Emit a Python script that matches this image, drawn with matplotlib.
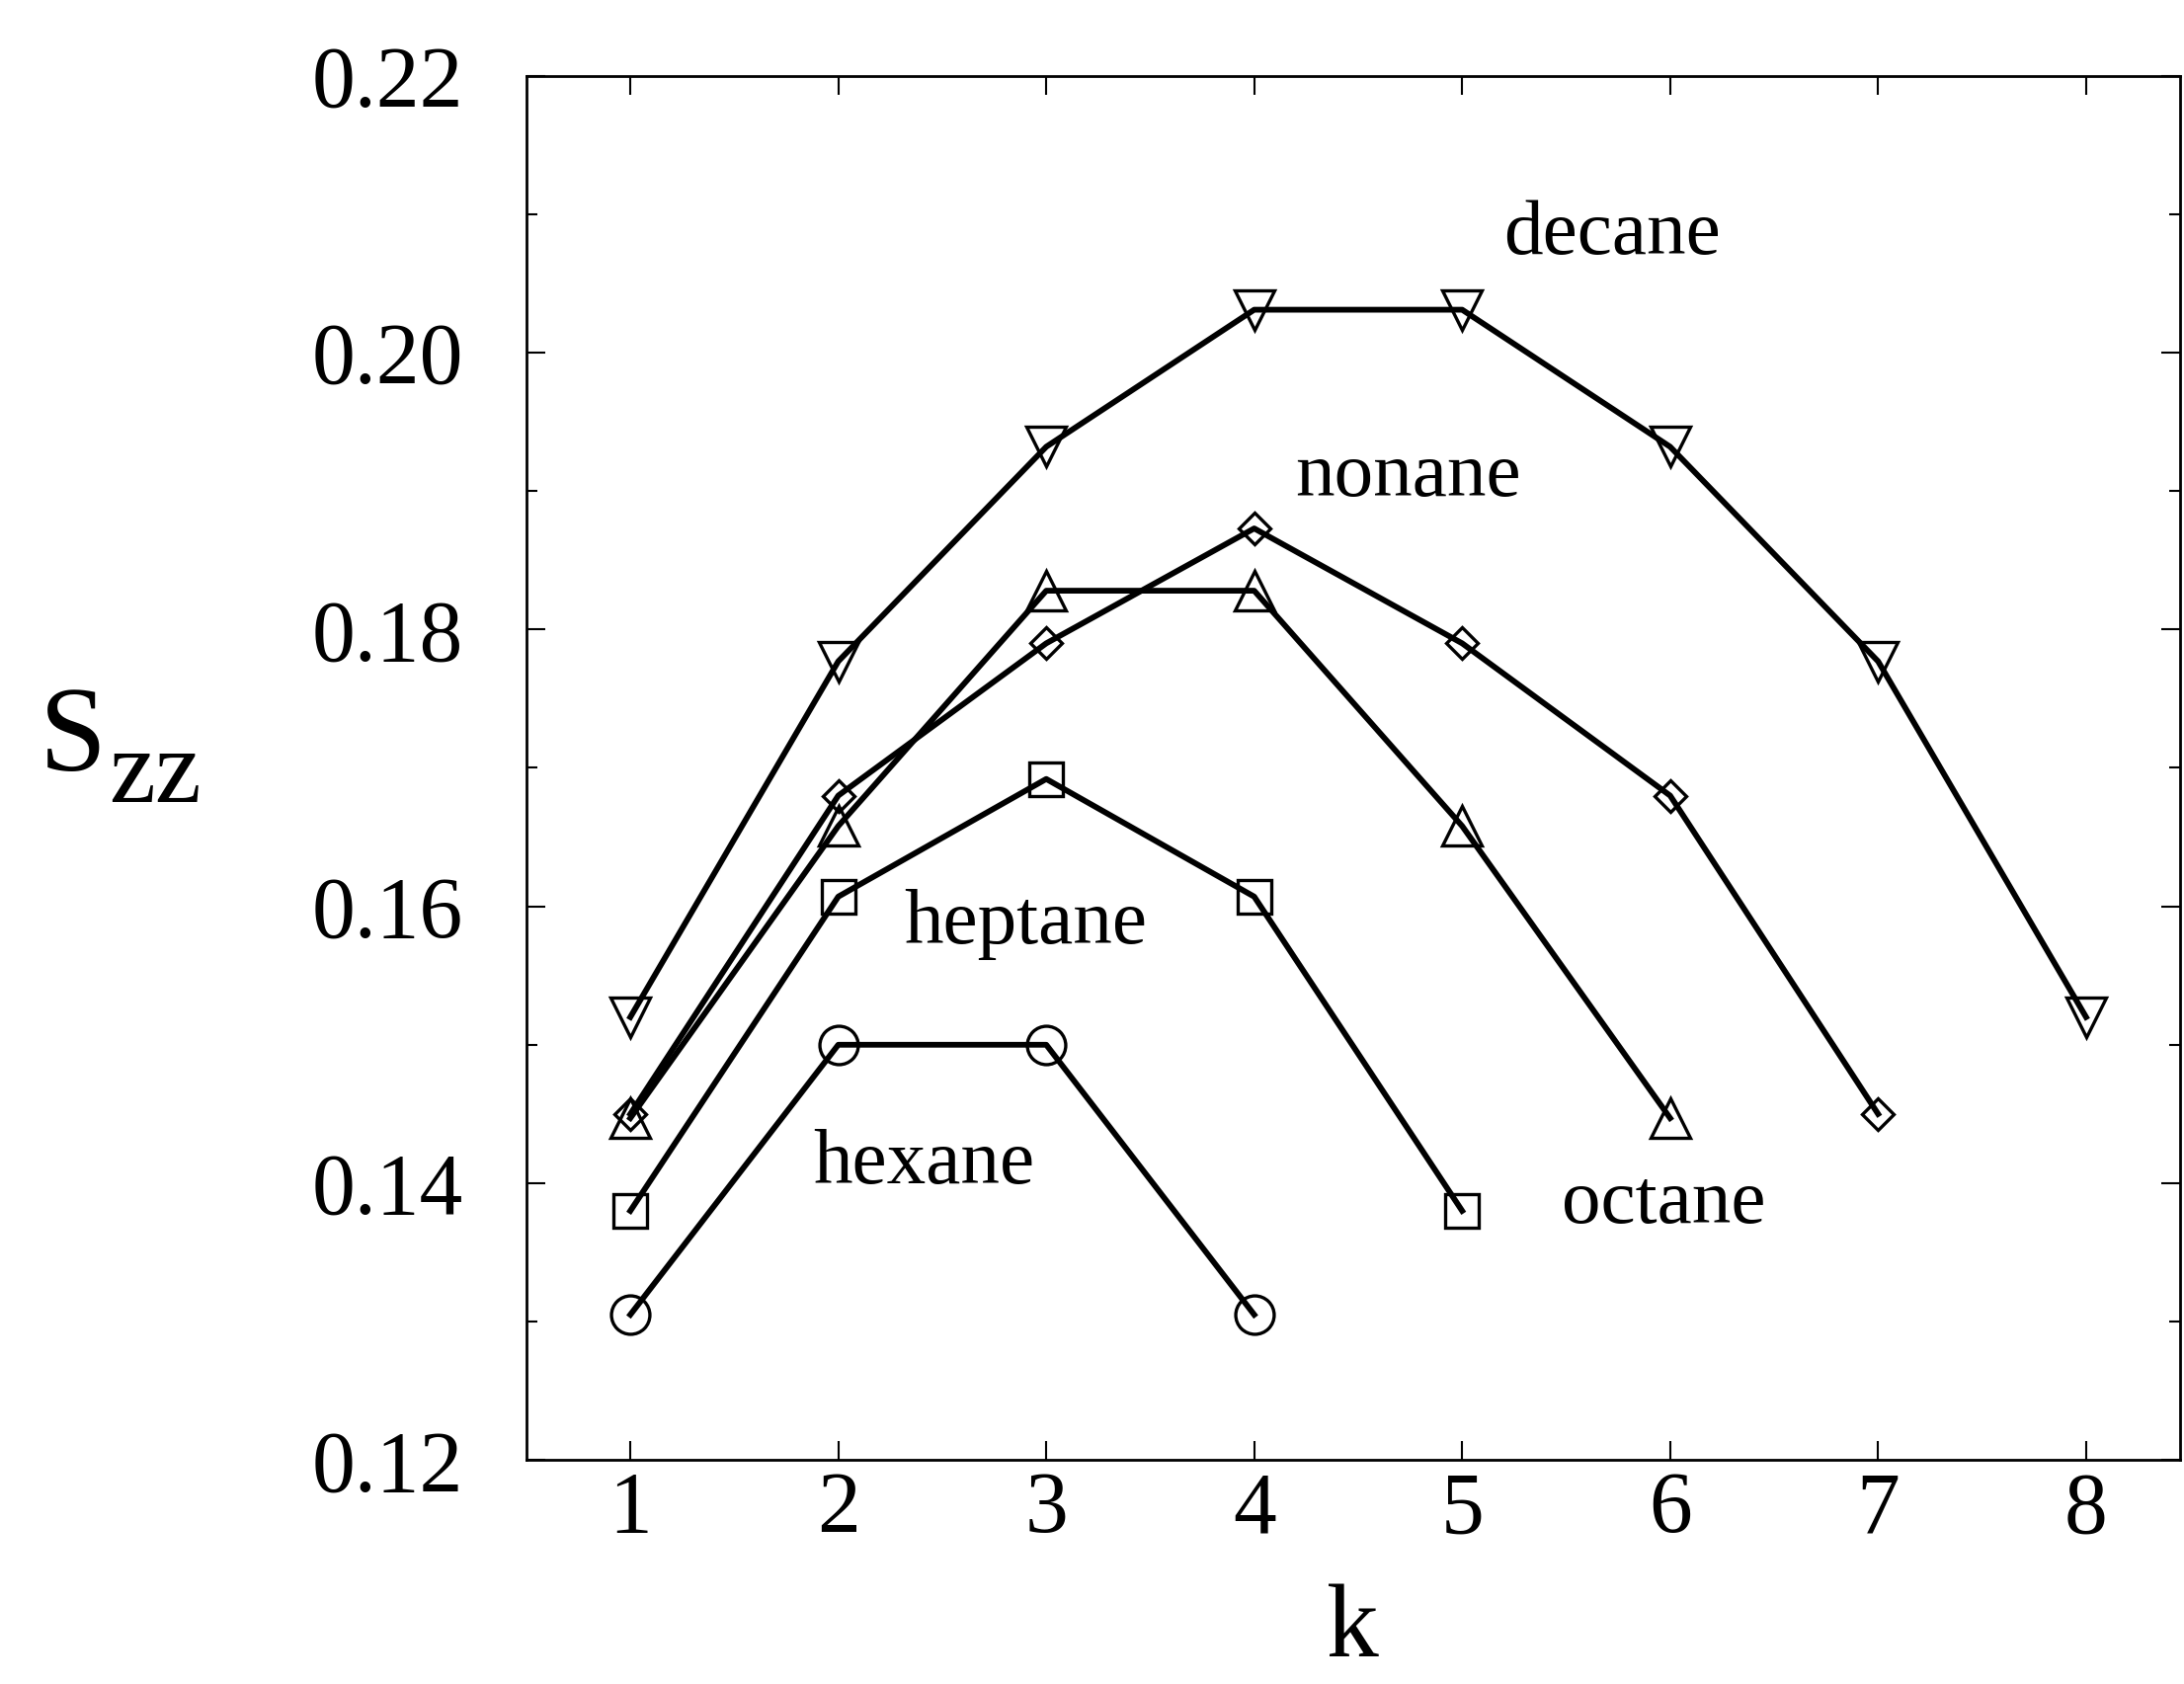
import matplotlib.pyplot as plt
from matplotlib.ticker import MultipleLocator

plt.rcParams['font.family'] = ['Liberation Serif', 'DejaVu Serif']

# S_zz per bond position k
hexane = [0.1305, 0.150, 0.150, 0.1305]
heptane = [0.138, 0.1607, 0.1692, 0.1607, 0.138]
octane = [0.1447, 0.1658, 0.1828, 0.1828, 0.1658, 0.1447]
nonane = [0.145, 0.168, 0.179, 0.1873, 0.179, 0.168, 0.145]
decane = [0.152, 0.1777, 0.1932, 0.2031, 0.2031, 0.1932, 0.1777, 0.152]

series = [hexane, heptane, octane, nonane, decane]
markers = ['o', 's', '^', 'D', 'v']
msizes = [28, 24, 29, 16, 29]

names = ['hexane', 'heptane', 'octane', 'nonane', 'decane']
name_pos = [(2.41, 0.1413), (2.90, 0.1587), (5.97, 0.1385), (4.74, 0.1910), (5.72, 0.2085)]

fig = plt.figure(figsize=(22.11, 17.05), dpi=100)
ax = fig.add_axes([0.241, 0.133, 0.757, 0.822])

for vals, m, ms in zip(series, markers, msizes):
    k = list(range(1, len(vals) + 1))
    ax.plot(k, vals, color='black', lw=4.2, marker=m, ms=ms,
            mfc='none', mec='black', mew=2.4)

for n, (x, y) in zip(names, name_pos):
    ax.text(x, y, n, fontsize=57, ha='center', va='center')

ax.set_xlim(0.5, 8.45)
ax.set_ylim(0.12, 0.22)
ax.set_xticks(range(1, 9))
ax.set_yticks([0.12, 0.14, 0.16, 0.18, 0.20, 0.22])
ax.set_yticklabels(['0.12', '0.14', '0.16', '0.18', '0.20', '0.22'])
ax.yaxis.set_minor_locator(MultipleLocator(0.01))

ax.tick_params(which='both', direction='in', top=True, right=True,
               labelsize=63, width=1.5)
ax.tick_params(which='major', length=14)
ax.tick_params(which='minor', length=8)
ax.tick_params(axis='x', pad=8)
ax.tick_params(axis='y', pad=46)
for s in ax.spines.values():
    s.set_linewidth(2)

ax.set_xlabel('k', fontsize=76, labelpad=24)

# y label S with subscript zz, placed by hand
fig.text(0.018, 0.5425, 'S', fontsize=88, ha='left', va='baseline')
fig.text(0.050, 0.5238, 'zz', fontsize=76, ha='left', va='baseline')

fig.savefig('out.png', dpi=100, facecolor='white')
